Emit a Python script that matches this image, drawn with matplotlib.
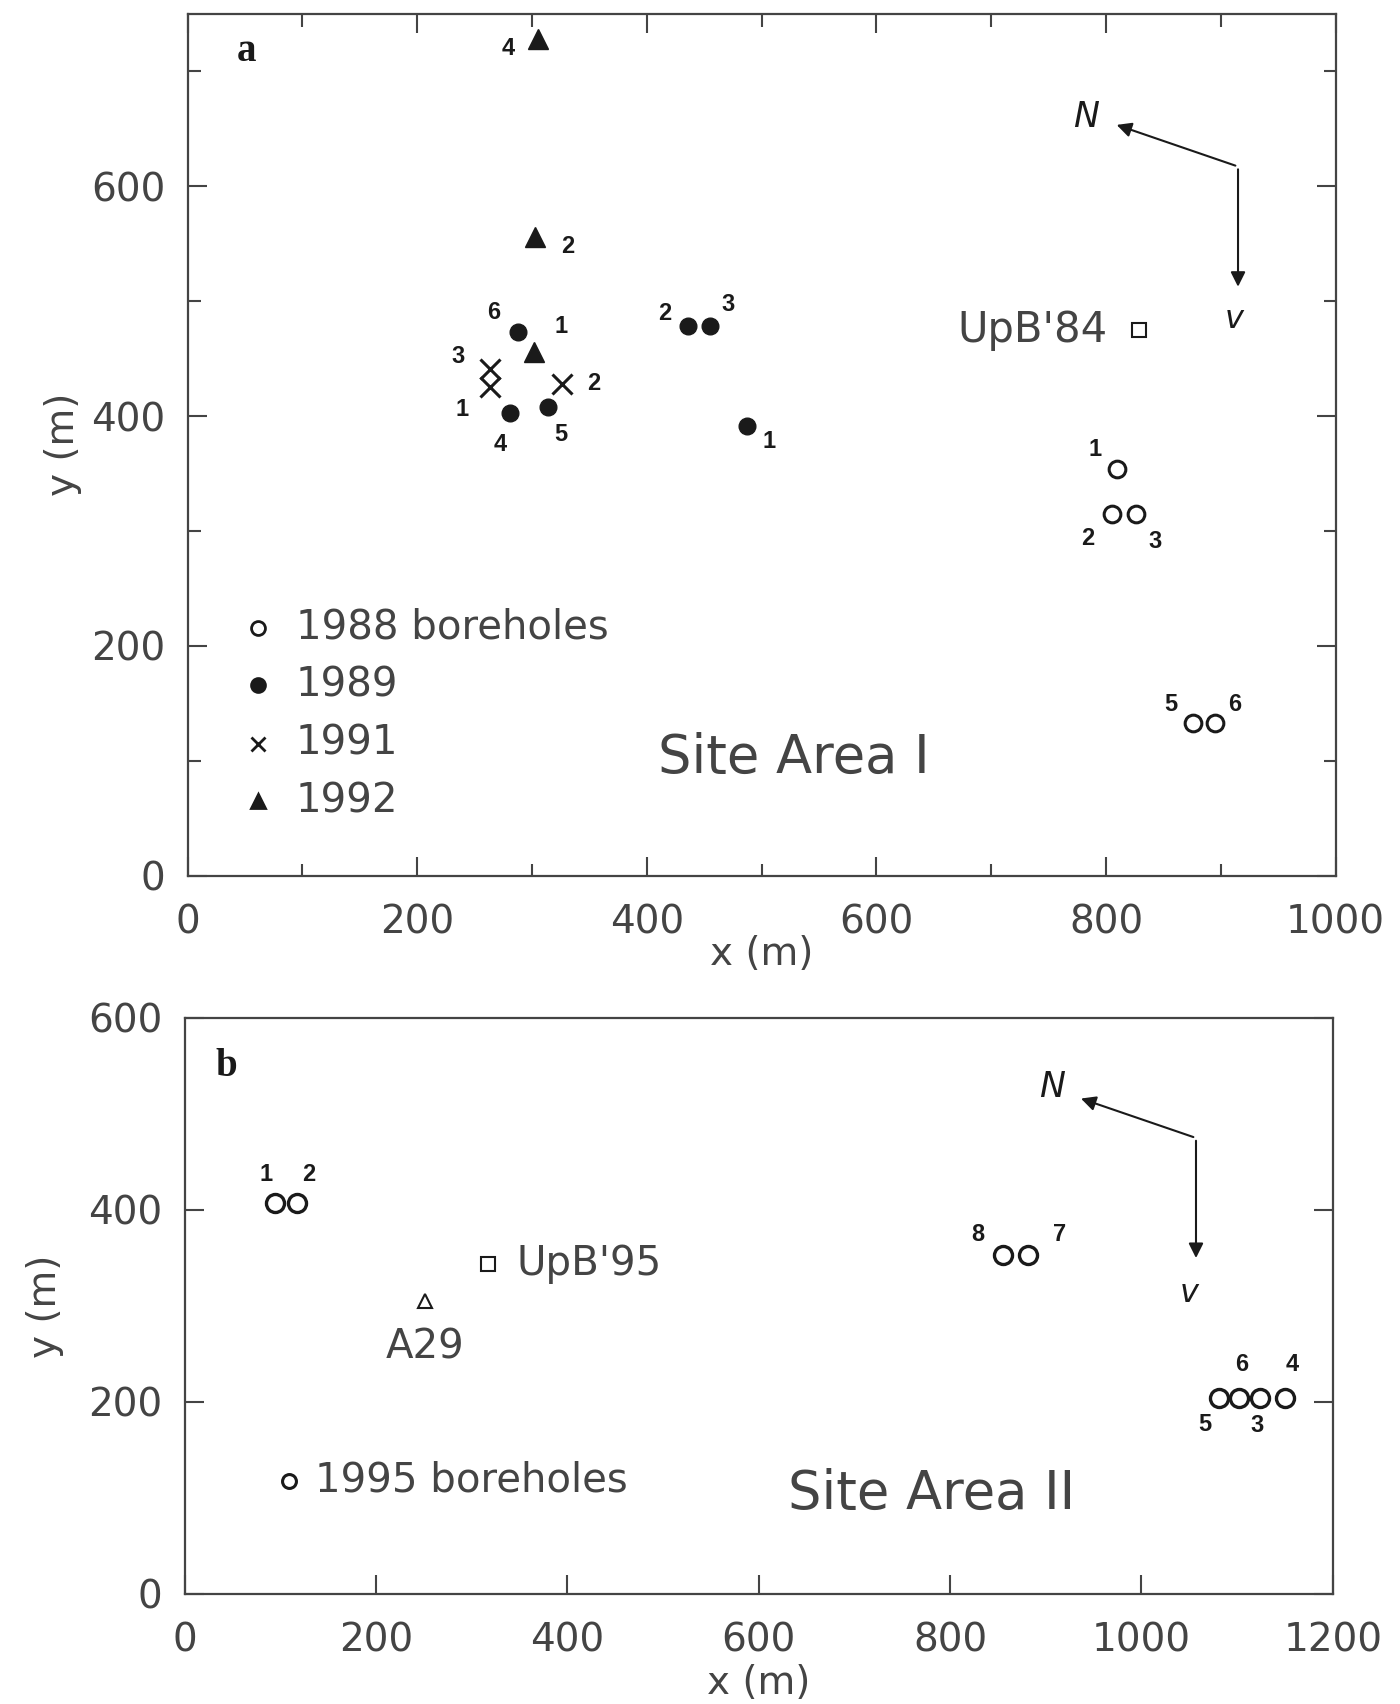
import matplotlib.pyplot as plt
from matplotlib.ticker import MultipleLocator

plt.rcParams['font.family'] = ['DejaVu Sans']

# ---- panel a: Site Area I ----
b88_x = [810, 805, 826, 876, 895]
b88_y = [354, 315, 315, 133, 133]
b88_lab = ['1', '2', '3', '5', '6']
b88_off = [(-16, 14), (-17, -18), (14, -20), (-16, 13), (14, 13)]

b89_x = [288, 281, 314, 436, 455, 487]
b89_y = [473, 403, 408, 478, 478, 391]
b89_lab = ['6', '4', '5', '2', '3', '1']
b89_off = [(-18, 14), (-7, -23), (9, -20), (-17, 9), (13, 16), (16, -11)]

b91_x = [263, 263, 326]
b91_y = [441, 425, 428]
b91_lab = ['3', '1', '2']
b91_off = [(-23, 9), (-20, -16), (23, 0)]

b92_x = [305, 303, 302]
b92_y = [728, 556, 456]
b92_lab = ['4', '2', '1']
b92_off = [(-21, -7), (23, -7), (19, 18)]

upb84 = (829, 475)
arrow_a = dict(corner=(915, 617), north=(807, 654), flow=(915, 510),
               n_lab=(783, 660), v_lab=(912, 484))

# ---- panel b: Site Area II ----
b95_x = [94, 117, 881, 855, 1150, 1102, 1124, 1081]
b95_y = [407, 407, 353, 353, 204, 204, 204, 204]
b95_lab = ['1', '2', '7', '8', '4', '6', '3', '5']
b95_off = [(-6, 21), (9, 21), (23, 15), (-18, 15), (5, 24), (2, 24), (-2, -20), (-10, -19)]

upb95 = (317, 344)
a29 = (251, 305)
arrow_b = dict(corner=(1057, 475), north=(934, 517), flow=(1057, 347),
               n_lab=(907, 528), v_lab=(1050, 313))

ink = '#1a1a1a'
grey = '#444444'

fig = plt.figure(figsize=(14, 17.04), dpi=100)
ax1 = fig.add_axes([0.134, 0.486, 0.820, 0.506])
ax2 = fig.add_axes([0.132, 0.0646, 0.820, 0.338])


def style_axes(ax, xmax, ymax, minor, top):
    ax.set_xlim(0, xmax)
    ax.set_ylim(0, ymax)
    ax.xaxis.set_major_locator(MultipleLocator(200))
    ax.yaxis.set_major_locator(MultipleLocator(200))
    if minor:
        ax.xaxis.set_minor_locator(MultipleLocator(100))
        ax.yaxis.set_minor_locator(MultipleLocator(100))
    ax.tick_params(which='both', direction='in', top=top, right=True,
                   colors=grey, labelcolor=grey, labelsize=28, width=1.5)
    ax.tick_params(which='major', length=14)
    ax.tick_params(which='minor', length=9)
    ax.tick_params(axis='x', pad=20)
    ax.tick_params(axis='y', pad=16)
    for s in ax.spines.values():
        s.set_color(grey)
        s.set_linewidth(1.6)
    ax.set_xlabel('x (m)', fontsize=28, color=grey)
    ax.set_ylabel('y (m)', fontsize=28, color=grey)


def number_labels(ax, xs, ys, labs, offs, size=17):
    for x, y, t, (dx, dy) in zip(xs, ys, labs, offs):
        ax.annotate(t, (x, y), xytext=(dx, dy), textcoords='offset points',
                    ha='center', va='center', fontsize=size, fontweight='bold',
                    family='Liberation Sans', color=ink)


def north_arrow(ax, a):
    ax.annotate('', xy=a['north'], xytext=a['corner'],
                arrowprops=dict(arrowstyle='-|>', color=ink, lw=1.5, mutation_scale=22))
    ax.annotate('', xy=a['flow'], xytext=a['corner'],
                arrowprops=dict(arrowstyle='-|>', color=ink, lw=1.5, mutation_scale=22))
    ax.text(*a['n_lab'], 'N', fontsize=25, style='italic', ha='center', va='center', color=ink)
    ax.text(*a['v_lab'], 'v', fontsize=23, style='italic', ha='center', va='center', color=ink)


# panel a
style_axes(ax1, 1000, 750, True, True)
ax1.xaxis.set_label_coords(0.5, -0.069)
ax1.yaxis.set_label_coords(-0.092, 0.5)
ax1.plot(b88_x, b88_y, 'o', ms=12, mfc='none', mec=ink, mew=2.2, ls='none')
ax1.plot(b89_x, b89_y, 'o', ms=12, color=ink, ls='none')
ax1.plot(b91_x, b91_y, 'x', ms=15, color=ink, mew=2.2, ls='none')
ax1.plot(b92_x, b92_y, '^', ms=14, color=ink, ls='none')
ax1.plot(*upb84, 's', ms=10, mfc='none', mec=ink, mew=1.5)
ax1.text(upb84[0] - 28, upb84[1], "UpB'84", fontsize=30, ha='right', va='center', color=grey)
number_labels(ax1, b88_x, b88_y, b88_lab, b88_off)
number_labels(ax1, b89_x, b89_y, b89_lab, b89_off)
number_labels(ax1, b91_x, b91_y, b91_lab, b91_off)
number_labels(ax1, b92_x, b92_y, b92_lab, b92_off)
north_arrow(ax1, arrow_a)

legend_marks = [('o', 'none', '1988 boreholes'), ('o', ink, '1989'),
                ('x', ink, '1991'), ('^', ink, '1992')]
legend_y = [216, 166, 115, 65]
for (m, fc, lab), ly in zip(legend_marks, legend_y):
    ax1.plot(61, ly, m, ms=10, mfc=fc, mec=ink, mew=2, color=ink)
    ax1.text(94, ly, lab, fontsize=29, va='center', ha='left', color=grey)
ax1.text(528, 103, 'Site Area I', fontsize=38, ha='center', va='center', color=grey)
ax1.text(51, 717, 'a', fontsize=28, fontweight='bold', family='Liberation Serif',
         ha='center', va='center', color=ink)

# panel b
style_axes(ax2, 1200, 600, False, False)
ax2.xaxis.set_label_coords(0.5, -0.121)
ax2.yaxis.set_label_coords(-0.105, 0.50)
ax2.plot(b95_x, b95_y, 'o', ms=13, mfc='none', mec=ink, mew=2.4, ls='none')
ax2.plot(*upb95, 's', ms=10, mfc='none', mec=ink, mew=1.5)
ax2.text(upb95[0] + 30, upb95[1], "UpB'95", fontsize=29, ha='left', va='center', color=grey)
ax2.plot(*a29, '^', ms=10, mfc='none', mec=ink, mew=1.5)
ax2.text(a29[0], a29[1] - 48, 'A29', fontsize=29, ha='center', va='center', color=grey)
number_labels(ax2, b95_x, b95_y, b95_lab, b95_off)
north_arrow(ax2, arrow_b)
ax2.plot(109, 118, 'o', ms=10, mfc='none', mec=ink, mew=2.2)
ax2.text(136, 118, '1995 boreholes', fontsize=29, va='center', ha='left', color=grey)
ax2.text(781, 104, 'Site Area II', fontsize=38, ha='center', va='center', color=grey)
ax2.text(43, 549, 'b', fontsize=28, fontweight='bold', family='Liberation Serif',
         ha='center', va='center', color=ink)

fig.savefig('out.png', dpi=100, facecolor='white')
